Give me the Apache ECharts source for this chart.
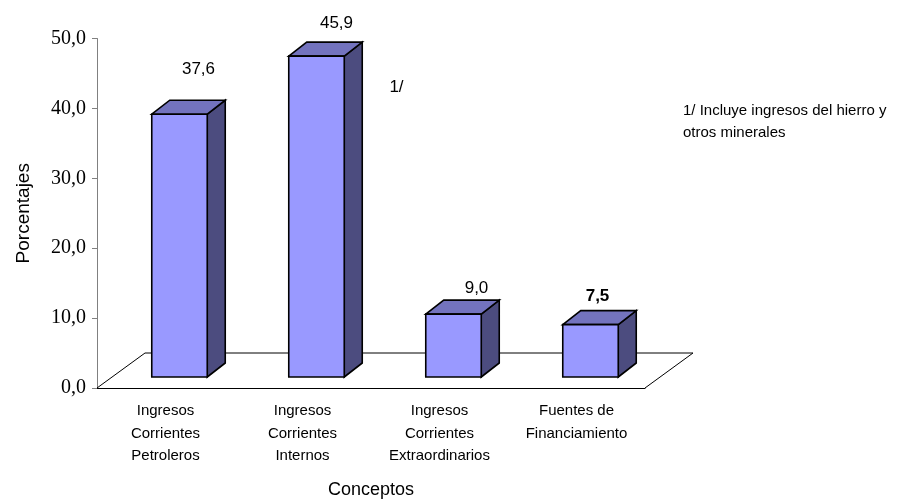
<!DOCTYPE html>
<html>
<head>
<meta charset="utf-8">
<script src="https://cdn.jsdelivr.net/npm/echarts@6/dist/echarts.min.js"></script>
<style>
  html, body { margin: 0; padding: 0; background: #fff; }
  #chart { width: 916px; height: 500px; }
</style>
</head>
<body>
<div id="chart"></div>
<script>
// Ingresos por concepto, en porcentajes
const categories = [
  'Ingresos\nCorrientes\nPetroleros',
  'Ingresos\nCorrientes\nInternos',
  'Ingresos\nCorrientes\nExtraordinarios',
  'Fuentes de\nFinanciamiento'
];
const values = [37.6, 45.9, 9.0, 7.5];
const valueLabels = ['37,6', '45,9', '9,0', '7,5'];
const noteMarks = ['', '1/', '', ''];
const yTickLabels = ['0,0', '10,0', '20,0', '30,0', '40,0', '50,0'];
const footnote = '1/ Incluye ingresos del hierro y\notros minerales';

// where each value label sits, relative to the top-front centre of its column
const labelShift = [[19, -45], [20, -33], [23, -26], [7, -28]];
const labelBold = [false, false, false, true];
// the "1/" call-out beside the second column
const noteShift = [80, 31];

const FRONT = '#9999ff', TOP = '#7373be', SIDE = '#4c4c7f';
const FLOOR_DX = 48, FLOOR_DY = -35;   // depth of the floor plane
const BAR_OX = 14, BAR_OY = -11;       // columns stand inside the floor
const BAR_DX = 18, BAR_DY = -14;       // depth of each column

const SANS = '"Liberation Sans", Arial, sans-serif';

const chart = echarts.init(document.getElementById('chart'), null, { renderer: 'canvas' });

function renderFloor(params, api) {
  const cs = params.coordSys;
  const x0 = cs.x, x1 = cs.x + cs.width, yb = cs.y + cs.height;
  return {
    type: 'polyline',
    shape: { points: [
      [x0, yb], [x0 + FLOOR_DX, yb + FLOOR_DY],
      [x1 + FLOOR_DX, yb + FLOOR_DY], [x1, yb]
    ] },
    style: { stroke: '#000', lineWidth: 1, fill: null },
    silent: true
  };
}

function renderBar(params, api) {
  const i = api.value(0);
  const v = api.value(1);
  const top = api.coord([i, v]);
  const base = api.coord([i, 0]);
  const band = api.size([1, 0])[0];
  const w = band * 0.405;
  const x0 = top[0] - w / 2 + BAR_OX, x1 = x0 + w;
  const yT = top[1] + BAR_OY, yB = base[1] + BAR_OY;
  const stroke = { stroke: '#000', lineWidth: 1.6, lineJoin: 'miter' };
  const children = [
    { type: 'polygon', shape: { points: [[x1, yT], [x1 + BAR_DX, yT + BAR_DY], [x1 + BAR_DX, yB + BAR_DY], [x1, yB]] },
      style: Object.assign({ fill: SIDE }, stroke) },
    { type: 'polygon', shape: { points: [[x0, yT], [x0 + BAR_DX, yT + BAR_DY], [x1 + BAR_DX, yT + BAR_DY], [x1, yT]] },
      style: Object.assign({ fill: TOP }, stroke) },
    { type: 'rect', shape: { x: x0, y: yT, width: w, height: yB - yT },
      style: Object.assign({ fill: FRONT }, stroke) }
  ];
  const cx = (x0 + x1) / 2;
  const idx = params.dataIndex;
  children.push({
    type: 'text',
    style: {
      text: valueLabels[idx],
      x: cx + labelShift[idx][0], y: yT + labelShift[idx][1],
      align: 'center', verticalAlign: 'middle',
      fontFamily: SANS,
      fontSize: 17,
      fontWeight: labelBold[idx] ? 'bold' : 'normal',
      fill: '#000'
    }
  });
  if (noteMarks[idx]) {
    children.push({
      type: 'text',
      style: {
        text: noteMarks[idx],
        x: cx + noteShift[0], y: yT + noteShift[1],
        align: 'center', verticalAlign: 'middle',
        fontFamily: SANS,
        fontSize: 17, fill: '#000'
      }
    });
  }
  return { type: 'group', children: children };
}

chart.setOption({
  animation: false,
  backgroundColor: '#fff',
  grid: {
    left: 97, right: 271, top: 38.5, bottom: 112,
    containLabel: false,
    outerBoundsMode: 'none'
  },
  xAxis: {
    type: 'category',
    data: categories,
    boundaryGap: true,
    name: 'Conceptos',
    nameLocation: 'middle',
    nameGap: 93,
    nameTextStyle: { fontFamily: SANS, fontSize: 18, color: '#000' },
    axisLine: { lineStyle: { color: '#000', width: 1 } },
    axisTick: { length: 5, lineStyle: { color: '#000' } },
    axisLabel: {
      interval: 0,
      margin: 12,
      fontFamily: SANS,
      fontSize: 15,
      lineHeight: 22.5,
      color: '#000'
    },
    splitLine: { show: false }
  },
  yAxis: {
    type: 'value',
    min: 0, max: 50, interval: 10,
    name: 'Porcentajes',
    nameLocation: 'middle',
    nameRotate: 90,
    nameGap: 64,
    nameTextStyle: { fontFamily: SANS, fontSize: 19, color: '#000' },
    axisLine: { show: true, lineStyle: { color: '#808080', width: 1 } },
    axisTick: { show: true, length: 5, lineStyle: { color: '#808080' } },
    axisLabel: {
      margin: 11,
      fontFamily: '"Liberation Serif", "Times New Roman", serif',
      fontSize: 20,
      color: '#000',
      formatter: function (v) { return yTickLabels[Math.round(v / 10)]; }
    },
    splitLine: { show: false }
  },
  graphic: [{
    type: 'text',
    left: 683, top: 100,
    style: {
      text: footnote,
      fontFamily: SANS,
      fontSize: 15,
      lineHeight: 22,
      fill: '#000'
    }
  }],
  series: [
    {
      type: 'custom',
      name: 'piso',
      renderItem: renderFloor,
      data: [[0, 0]],
      z: 1,
      silent: true
    },
    {
      type: 'custom',
      name: 'Porcentajes',
      renderItem: renderBar,
      data: values.map(function (v, i) { return [i, v]; }),
      encode: { x: 0, y: 1 },
      z: 2
    }
  ]
});
</script>
</body>
</html>
